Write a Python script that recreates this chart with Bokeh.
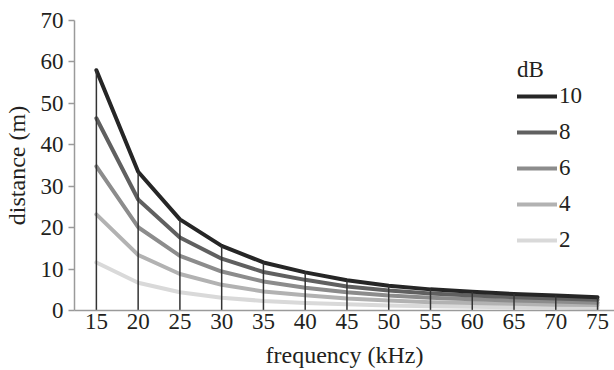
from bokeh.plotting import figure
from bokeh.models import Range1d, Legend, LegendItem, FixedTicker, ColumnDataSource
from bokeh.embed import file_html
from bokeh.resources import INLINE

# ---- data ----
frequency = [15, 20, 25, 30, 35, 40, 45, 50, 55, 60, 65, 70, 75]
db_levels = ["10", "8", "6", "4", "2"]
dist_10 = [58.0, 33.5, 22.0, 15.6, 11.6, 9.2, 7.3, 6.0, 5.1, 4.5, 4.0, 3.6, 3.2]
dist_8 = [46.4, 26.8, 17.6, 12.5, 9.3, 7.4, 5.8, 4.8, 4.1, 3.6, 3.2, 2.9, 2.6]
dist_6 = [34.8, 20.1, 13.2, 9.4, 7.0, 5.5, 4.4, 3.6, 3.1, 2.7, 2.4, 2.2, 1.9]
dist_4 = [23.2, 13.4, 8.8, 6.2, 4.6, 3.7, 2.9, 2.4, 2.0, 1.8, 1.6, 1.4, 1.3]
dist_2 = [11.6, 6.7, 4.4, 3.1, 2.3, 1.8, 1.5, 1.2, 1.0, 0.9, 0.8, 0.7, 0.6]
y_ticks = [0, 10, 20, 30, 40, 50, 60, 70]

series = {"10": dist_10, "8": dist_8, "6": dist_6, "4": dist_4, "2": dist_2}
colors = {"10": "#262626", "8": "#606060", "6": "#8c8c8c", "4": "#b2b2b2", "2": "#d9d9d9"}

FONT = "Liberation Serif"
TXT = "#231f20"

p = figure(width=614, height=370, output_backend="svg", toolbar_location=None,
           x_range=Range1d(12.38, 77.03), y_range=Range1d(0, 70),
           min_border_left=72, min_border_right=0, min_border_top=20, min_border_bottom=60)
p.outline_line_color = None
p.grid.grid_line_color = None
p.background_fill_color = "white"

renderers = {}
for lev in ["2", "4", "6", "8", "10"]:
    src = ColumnDataSource(dict(x=frequency, y=series[lev]))
    renderers[lev] = p.line("x", "y", source=src, line_color=colors[lev], line_width=4,
                            line_join="round", line_cap="round")

# vertical drop lines to the top series
drop = ColumnDataSource(dict(x0=frequency, y0=[0] * len(frequency), x1=frequency, y1=dist_10))
p.segment("x0", "y0", "x1", "y1", source=drop, line_color="#333333", line_width=1.5)

# axes
p.xaxis.ticker = FixedTicker(ticks=frequency)
p.yaxis.ticker = FixedTicker(ticks=y_ticks)
for ax in (p.xaxis[0], p.yaxis[0]):
    ax.axis_line_color = "#9a9a9a"
    ax.axis_line_width = 1.5
    ax.major_tick_line_color = "#9a9a9a"
    ax.major_tick_line_width = 1.5
    ax.minor_tick_line_color = None
    ax.major_label_text_font = FONT
    ax.major_label_text_font_size = "23px"
    ax.major_label_text_color = TXT
    ax.axis_label_text_font = FONT
    ax.axis_label_text_font_size = "24px"
    ax.axis_label_text_font_style = "normal"
    ax.axis_label_text_color = TXT

p.xaxis.axis_label = "frequency (kHz)"
p.yaxis.axis_label = "distance (m)"
p.xaxis.major_tick_out = 0
p.xaxis.major_tick_in = 0
p.xaxis.major_label_standoff = 3
p.xaxis.axis_label_standoff = 10
p.yaxis.major_tick_out = 6
p.yaxis.major_tick_in = 0
p.yaxis.major_label_standoff = 5
p.yaxis.axis_label_standoff = 8

legend = Legend(items=[LegendItem(label=lev, renderers=[renderers[lev]]) for lev in db_levels],
                title="dB", location=(443, 57))
legend.title_text_font = FONT
legend.title_text_font_size = "23px"
legend.title_text_font_style = "normal"
legend.title_text_color = TXT
legend.title_standoff = 0
legend.label_text_font = FONT
legend.label_text_font_size = "23px"
legend.label_text_color = TXT
legend.glyph_width = 40
legend.glyph_height = 20
legend.label_height = 20
legend.label_standoff = 2
legend.spacing = 10
legend.padding = 0
legend.margin = 0
legend.border_line_alpha = 0
legend.background_fill_alpha = 0
p.add_layout(legend, "center")

open("out.html", "w").write(file_html(p, INLINE))
